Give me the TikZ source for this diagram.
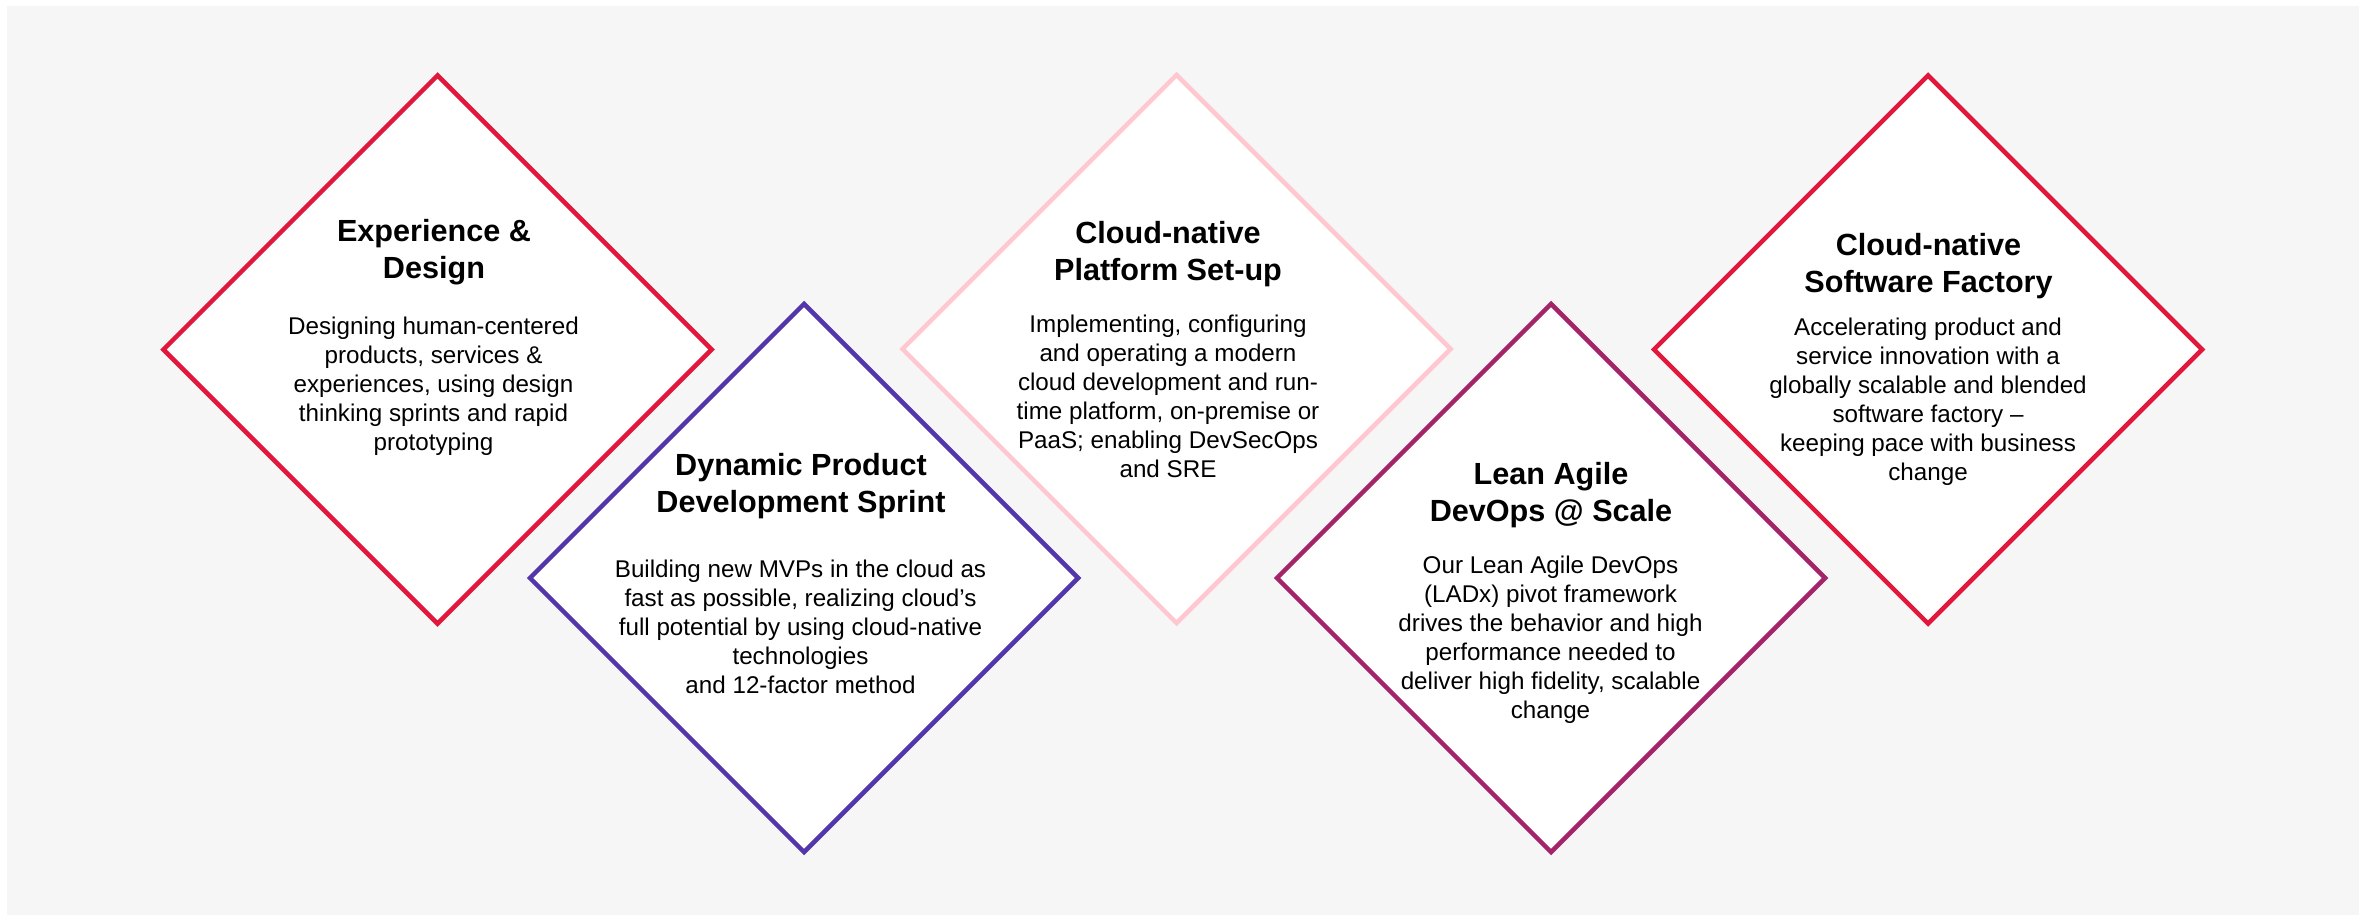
\documentclass[tikz,border=0pt]{standalone}
\usepackage{fontspec}
\setmainfont{Liberation Sans}
\usetikzlibrary{shapes.geometric}
\definecolor{bgc}{HTML}{F6F6F6}
\definecolor{cred}{HTML}{E1183C}
\definecolor{cpurple}{HTML}{5337AA}
\definecolor{cpink}{HTML}{FFC8D0}
\definecolor{cmag}{HTML}{A52369}
\begin{document}
\begin{tikzpicture}[x=1pt,y=-1pt,
  dia/.style={diamond, draw, line width=4.5pt, fill=white, minimum width=550pt, minimum height=550pt, inner sep=0pt, aspect=1},
  ttl/.style={anchor=north, align=center, font=\bfseries\fontsize{30.6}{37}\selectfont, inner sep=0pt},
  txt/.style={anchor=north, align=center, font=\fontsize{24.2}{29}\selectfont, inner sep=0pt}]
\useasboundingbox (0,0) rectangle (2365,915);
\fill[white] (0,0) rectangle (2365,915);
\fill[bgc] (7,6) rectangle (2359,915);

\node[dia, draw=cred] (d1) at (437.5,349.5) {};
\node[dia, draw=cpurple] (d2) at (804,578) {};
\node[dia, draw=cpink] (d3) at (1176.5,349) {};
\node[dia, draw=cmag] (d4) at (1551,578) {};
\node[dia, draw=cred] (d5) at (1928,349.5) {};

\node[ttl] (t1) at (434,219.3) {Experience \&\\Design};
\node[txt] (b1) at (433.5,316.3) {Designing human-centered\\products, services \&\\experiences, using design\\thinking sprints and rapid\\prototyping};

\node[ttl] (t2) at (801,453) {Dynamic Product\\Development Sprint};
\node[txt] (b2) at (800.5,559.3) {Building new MVPs in the cloud as\\fast as possible, realizing cloud’s\\full potential by using cloud-native\\technologies\\and 12-factor method};

\node[ttl] (t3) at (1168,221.1) {Cloud-native\\Platform Set-up};
\node[txt] (b3) at (1168,314.5) {Implementing, configuring\\and operating a modern\\cloud development and run-\\time platform, on-premise or\\PaaS; enabling DevSecOps\\and SRE};

\node[ttl] (t4) at (1551,462.2) {Lean Agile\\DevOps @ Scale};
\node[txt] (b4) at (1550.5,555.6) {Our Lean Agile DevOps\\(LADx) pivot framework\\drives the behavior and high\\performance needed to\\deliver high fidelity, scalable\\change};

\node[ttl] (t5) at (1928.5,232.9) {Cloud-native\\Software Factory};
\node[txt] (b5) at (1928,318.2) {Accelerating product and\\service innovation with a\\globally scalable and blended\\software factory –\\keeping pace with business\\change};
\end{tikzpicture}
\end{document}
